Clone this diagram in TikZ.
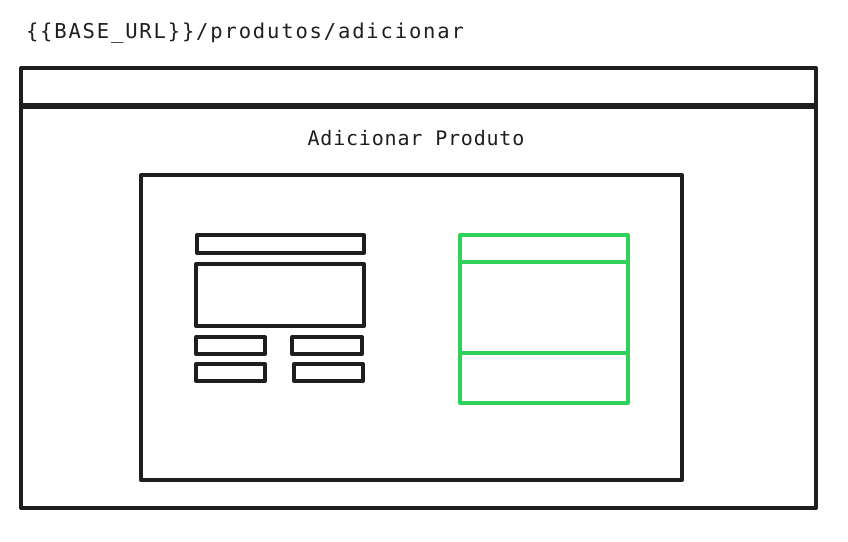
\documentclass[tikz,border=0pt]{standalone}
\usepackage{fontspec}
\setmonofont{DejaVu Sans Mono}
\usepackage{tikz}
\definecolor{ink}{HTML}{1E1E1E}
\definecolor{okgreen}{HTML}{2FD158}

\begin{document}
\begin{tikzpicture}[x=1pt, y=-1pt, line width=4pt, line join=round]
    \useasboundingbox (0, 0) rectangle (848, 541);

    % draw url line
    \node[anchor=base west, inner sep=0, color=ink,
          font=\ttfamily\fontsize{20.5}{24}\selectfont\addfontfeature{LetterSpace=9}]
      (url) at (24, 38) {\{\{BASE\_URL\}\}/produtos/adicionar};

    % draw browser window and header bar
    \draw[color=ink] (21, 68) rectangle (816, 508);
    \draw[color=ink, line width=6pt] (21, 106) -- (816, 106);

    % draw page title
    \node[anchor=base, inner sep=0, color=ink,
          font=\ttfamily\fontsize{20}{24}\selectfont\addfontfeature{LetterSpace=4}]
      (title) at (416, 145) {Adicionar Produto};

    % draw form panel
    \draw[color=ink] (141, 175) rectangle (682, 480);

    % draw left fields
    \draw[color=ink] (197, 235) rectangle (364, 253);
    \draw[color=ink] (196, 264) rectangle (364, 326);
    \draw[color=ink] (196, 337) rectangle (265, 354);
    \draw[color=ink] (292, 337) rectangle (362, 354);
    \draw[color=ink] (196, 364) rectangle (265, 381);
    \draw[color=ink] (294, 364) rectangle (363, 381);

    % draw green card
    \draw[color=okgreen] (460, 235) rectangle (628, 403);
    \draw[color=okgreen] (460, 262) -- (628, 262);
    \draw[color=okgreen] (460, 353) -- (628, 353);

\end{tikzpicture}
\end{document}
